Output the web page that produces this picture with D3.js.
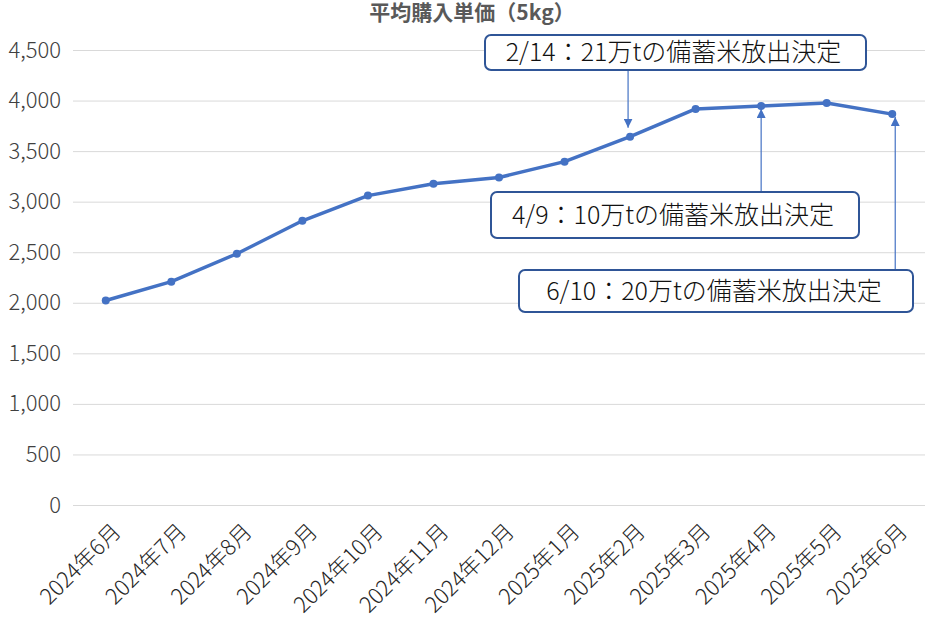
<!DOCTYPE html>
<html><head><meta charset="utf-8">
<script src="https://cdn.jsdelivr.net/npm/d3@7"></script>
<style>body{margin:0;background:#fff}svg{display:block}</style>
</head><body>
<svg id="c" width="944" height="619"></svg>
<script>
const categories = ["2024年6月","2024年7月","2024年8月","2024年9月","2024年10月","2024年11月","2024年12月","2025年1月","2025年2月","2025年3月","2025年4月","2025年5月","2025年6月"];
const prices = [2023, 2209, 2485, 2811, 3060, 3178, 3239, 3396, 3643, 3917, 3947, 3975, 3866];
const yTicks = [0,500,1000,1500,2000,2500,3000,3500,4000,4500];
const title = "平均購入単価（5kg）";
const annotations = [
  {text:"2/14：21万tの備蓄米放出決定", cat:"2025年2月", dir:"down"},
  {text:"4/9：10万tの備蓄米放出決定", cat:"2025年4月", dir:"up"},
  {text:"6/10：20万tの備蓄米放出決定", cat:"2025年6月", dir:"up"}
];

const font = "'Noto Sans CJK JP','Noto Sans',sans-serif";
const svg = d3.select("#c");
const x = d3.scalePoint().domain(categories).range([73,925]).padding(0.5);
const y = d3.scaleLinear().domain([0,4500]).range([505,50]);

svg.append("text").attr("x",472).attr("y",20).attr("text-anchor","middle")
  .attr("font-family",font).attr("font-size",21).attr("font-weight","bold").attr("fill","#595959").text(title);

// grid
const yAxis = d3.axisLeft(y).tickValues(yTicks).tickSize(-(925-73)).tickFormat(d3.format(","));
const ga = svg.append("g").attr("transform","translate(73,0)").call(yAxis);
ga.select(".domain").remove();
ga.selectAll(".tick line").attr("stroke","#d9d9d9").attr("stroke-width",1);
ga.selectAll(".tick text").attr("x",-12).attr("font-family",font).attr("font-size",22).attr("font-weight",300).attr("fill","#404040");

// x axis labels
const xa = svg.append("g").attr("transform","translate(0,505)").call(d3.axisBottom(x).tickSize(0));
xa.select(".domain").remove();
xa.selectAll(".tick text").attr("font-family",font).attr("font-size",22).attr("font-weight",300).attr("fill","#262626")
  .attr("text-anchor","end").attr("dy",0).attr("y",0)
  .attr("transform","translate(16,28) rotate(-45)");

// line
svg.append("path").datum(prices.map((v,i)=>[categories[i],v]))
  .attr("fill","none").attr("stroke","#4472C4").attr("stroke-width",3.5).attr("stroke-linejoin","round")
  .attr("d",d3.line().x(d=>x(d[0])).y(d=>y(d[1])));
svg.selectAll("circle.pt").data(prices).join("circle").attr("class","pt")
  .attr("cx",(d,i)=>x(categories[i])).attr("cy",d=>y(d)).attr("r",4).attr("fill","#4472C4");

// arrows
const defs = svg.append("defs");
defs.append("marker").attr("id","ah").attr("viewBox","0 0 10 10").attr("refX",10).attr("refY",5)
  .attr("markerWidth",9).attr("markerHeight",9).attr("markerUnits","userSpaceOnUse").attr("orient","auto")
  .append("path").attr("d","M0,0L10,5L0,10Z").attr("fill","#4472C4");

const boxes = [
  {x0:485,y0:35,x1:866,y1:70},
  {x0:491,y0:192,x1:859,y1:238},
  {x0:519,y0:270,x1:913,y1:312}
];
annotations.forEach((a,i)=>{
  const b = boxes[i];
  const ax = x(a.cat) + (i===2 ? 3 : 0);
  const v = prices[categories.indexOf(a.cat)];
  if(a.dir==="down"){
    svg.append("line").attr("x1",ax-2).attr("x2",ax-2).attr("y1",b.y1).attr("y2",y(v)-9)
      .attr("stroke","#4472C4").attr("stroke-width",1.2).attr("marker-end","url(#ah)");
  } else {
    svg.append("line").attr("x1",ax).attr("x2",ax).attr("y1",b.y0).attr("y2",y(v)+3)
      .attr("stroke","#4472C4").attr("stroke-width",1.2).attr("marker-end","url(#ah)");
  }
  svg.append("rect").attr("x",b.x0).attr("y",b.y0).attr("width",b.x1-b.x0).attr("height",b.y1-b.y0)
    .attr("rx",6).attr("fill","#fff").attr("stroke","#2F5597").attr("stroke-width",2);
  svg.append("text").attr("x",(b.x0+b.x1)/2 - 2).attr("y",(b.y0+b.y1)/2).attr("dy","0.35em")
    .attr("text-anchor","middle").attr("font-family",font).attr("font-size",25).attr("font-weight",300).attr("fill","#111").text(a.text);
});
</script>
</body></html>
